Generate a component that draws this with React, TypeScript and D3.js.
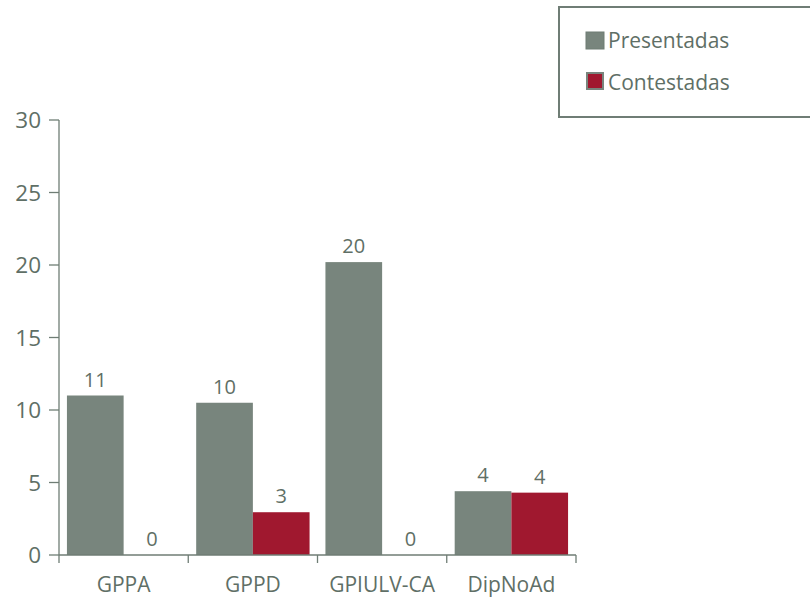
import React from "react";
import * as d3 from "d3";

const categories = ["GPPA", "GPPD", "GPIULV-CA", "DipNoAd"];
const seriesNames = ["Presentadas", "Contestadas"];
const presentadas = [11, 10.5, 20.2, 4.4];
const contestadas = [0, 2.95, 0, 4.3];
const presentadasLabels = ["11", "10", "20", "4"];
const contestadasLabels = ["0", "3", "0", "4"];
const yTicks = [0, 5, 10, 15, 20, 25, 30];

const W = 810;
const H = 598;
const left = 59;
const right = 576;
const top = 120;
const bottom = 555;

const GREY = "#78857d";
const RED = "#a0182f";
const TEXT = "#5f6f66";
const AXIS = "#6f7d75";
const FONT = "'Open Sans', 'Noto Sans', sans-serif";

export default function App() {
  const x = d3.scaleBand<string>().domain(categories).range([left, right]).padding(0);
  const xs = d3
    .scaleBand<string>()
    .domain(seriesNames)
    .range([0, x.bandwidth()])
    .paddingInner(0)
    .paddingOuter(0.14);
  const y = d3.scaleLinear().domain([0, 30]).range([bottom, top]);

  const series = [
    { name: seriesNames[0], values: presentadas, labels: presentadasLabels, color: GREY },
    { name: seriesNames[1], values: contestadas, labels: contestadasLabels, color: RED },
  ];

  const boundaries = [...categories.map((c) => x(c) as number), right];

  return (
    <div style={{ position: "fixed", left: 0, top: 0, width: W, height: H, overflow: "hidden", background: "#fff" }}>
      <svg width={W} height={H} style={{ display: "block" }} fontFamily={FONT}>
        {/* bars */}
        {series.map((s) =>
          categories.map((c, i) => {
            const bx = (x(c) as number) + (xs(s.name) as number);
            const bw = xs.bandwidth();
            const v = s.values[i];
            return (
              <g key={s.name + c}>
                {v > 0 && (
                  <rect x={bx} y={y(v)} width={bw} height={y(0) - y(v)} fill={s.color} />
                )}
                <text
                  x={bx + bw / 2}
                  y={y(v) - 9}
                  textAnchor="middle"
                  fontSize={20}
                  fill={TEXT}
                >
                  {s.labels[i]}
                </text>
              </g>
            );
          })
        )}

        {/* y axis */}
        <line x1={left} x2={left} y1={y(30)} y2={y(0)} stroke={AXIS} strokeWidth={1.3} />
        {yTicks.map((t) => (
          <g key={t}>
            <line x1={left - 10} x2={left} y1={y(t)} y2={y(t)} stroke={AXIS} strokeWidth={1.3} />
            <text
              x={41}
              y={y(t)}
              dy="0.36em"
              textAnchor="end"
              fontSize={22.5}
              fill={TEXT}
            >
              {t}
            </text>
          </g>
        ))}

        {/* x axis */}
        <line x1={left} x2={right} y1={y(0)} y2={y(0)} stroke={AXIS} strokeWidth={1.3} />
        {boundaries.map((bx, i) => (
          <line key={i} x1={bx} x2={bx} y1={y(0)} y2={y(0) + 8} stroke={AXIS} strokeWidth={1.3} />
        ))}
        {categories.map((c) => (
          <text
            key={c}
            x={(x(c) as number) + x.bandwidth() / 2}
            y={592}
            textAnchor="middle"
            fontSize={21}
            fill={TEXT}
          >
            {c}
          </text>
        ))}

        {/* legend (box runs off the right edge) */}
        <line x1={559} x2={W + 20} y1={7} y2={7} stroke={AXIS} strokeWidth={2} />
        <line x1={559} x2={W + 20} y1={117} y2={117} stroke={AXIS} strokeWidth={2} />
        <line x1={559} x2={559} y1={6} y2={118} stroke={AXIS} strokeWidth={2} />
        <rect x={586} y={32} width={18} height={17} fill={GREY} stroke={AXIS} strokeWidth={1} />
        <text x={608} y={48} fontSize={21} fill={TEXT}>
          {seriesNames[0]}
        </text>
        <rect x={587} y={73} width={16} height={16} fill={RED} stroke={GREY} strokeWidth={2} />
        <text x={608} y={90} fontSize={21} fill={TEXT}>
          {seriesNames[1]}
        </text>
      </svg>
    </div>
  );
}
